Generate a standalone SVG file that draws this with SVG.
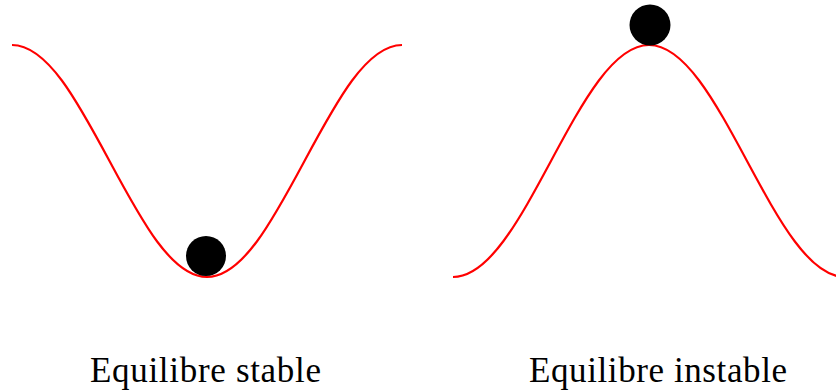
<svg xmlns="http://www.w3.org/2000/svg" width="836" height="392" viewBox="0 0 836 392">
<style>
.curve{fill:none;stroke:#ff0000;stroke-width:2.2}
.ball{fill:#000}
.lbl{font-family:"Liberation Serif","Times New Roman",serif;font-size:35px;fill:#000;text-anchor:middle}
</style>
<rect width="836" height="392" fill="#fff"/>
<g id="stable">
<path class="curve" d="M12,45 C47.3,45 77.7,101.6 109.5,161 C141.3,220.4 171.7,277 207,277 C242.3,277 272.7,220.4 304.5,161 C336.3,101.6 366.7,45 402,45"/>
<circle class="ball" cx="206" cy="256" r="20"/>
<text class="lbl" x="205.5" y="382" textLength="231" lengthAdjust="spacing">Equilibre stable</text>
</g>
<g id="instable">
<path class="curve" d="M453,277 C488.5,277 519,220.4 551,161 C583,101.6 613.5,45 649,45 C684.5,45 715,101.6 747,161 C779,220.4 809.5,277 845,277"/>
<circle class="ball" cx="650" cy="25" r="20.5"/>
<text class="lbl" x="658" y="382" textLength="258" lengthAdjust="spacing">Equilibre instable</text>
</g>
</svg>
